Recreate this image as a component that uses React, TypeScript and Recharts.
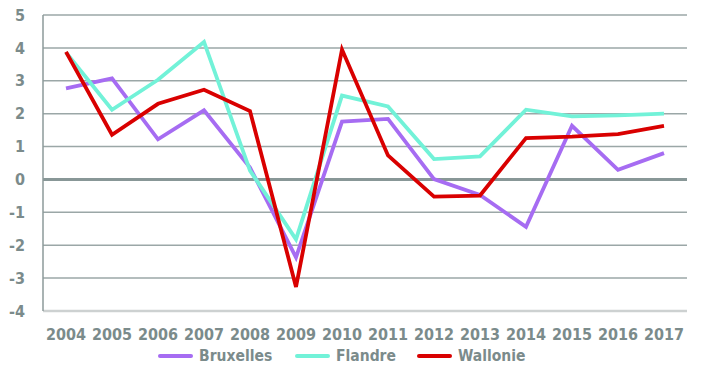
import React from "react";
import { CartesianGrid, Legend, Line, LineChart, ReferenceLine, XAxis, YAxis } from "recharts";

const YEARS = ["2004", "2005", "2006", "2007", "2008", "2009", "2010", "2011", "2012", "2013", "2014", "2015", "2016", "2017"];
const BRUXELLES = [2.77, 3.07, 1.22, 2.1, 0.36, -2.37, 1.76, 1.84, 0.01, -0.47, -1.44, 1.63, 0.29, 0.8];
const FLANDRE = [3.86, 2.12, 3.03, 4.18, 0.27, -1.82, 2.55, 2.22, 0.62, 0.7, 2.12, 1.92, 1.95, 2.0];
const WALLONIE = [3.88, 1.36, 2.3, 2.73, 2.08, -3.27, 3.95, 0.73, -0.52, -0.49, 1.26, 1.3, 1.38, 1.63];
const Y_TICKS = [-4, -3, -2, -1, 0, 1, 2, 3, 4, 5];

const SERIES = [
  { key: "Bruxelles", color: "#a66cf2" },
  { key: "Flandre", color: "#72f2d8" },
  { key: "Wallonie", color: "#d90000" },
];

// legend item slots, px
const LEGEND_WIDTHS = [137, 122, 120];

const FONT = "'DejaVu Sans Condensed', 'DejaVu Sans', sans-serif";
const TEXT = "#7b8b8b";

const data = YEARS.map((year, i) => ({
  year,
  Bruxelles: BRUXELLES[i],
  Flandre: FLANDRE[i],
  Wallonie: WALLONIE[i],
}));

function LegendRow() {
  return (
    <div style={{ height: 22, display: "flex", alignItems: "center", paddingLeft: 158 }}>
      {SERIES.map((s, i) => (
        <div key={s.key} style={{ display: "flex", alignItems: "center", width: LEGEND_WIDTHS[i] }}>
          <span style={{ display: "inline-block", width: 35, height: 4, borderRadius: 2, background: s.color }} />
          <span style={{ marginLeft: 6, fontFamily: FONT, fontWeight: 700, fontSize: 15.5, color: TEXT }}>{s.key}</span>
        </div>
      ))}
    </div>
  );
}

export default function App() {
  return (
    <div style={{ position: "absolute", left: 0, top: 0, width: 701, height: 387, background: "#fff" }}>
      <LineChart width={701} height={387} data={data} margin={{ top: 15, right: 14, left: 0, bottom: 20 }}>
        <CartesianGrid vertical={false} stroke="#9ba7a7" strokeWidth={1.5} />
        <XAxis
          dataKey="year"
          scale="band"
          height={34}
          tickSize={0}
          tickMargin={18}
          axisLine={{ stroke: "#cdd1d1", strokeWidth: 2.5 }}
          tick={{ fill: TEXT, fontSize: 16, fontWeight: 700, fontFamily: FONT }}
        />
        <YAxis
          width={43}
          domain={[-4, 5]}
          ticks={Y_TICKS}
          interval={0}
          tickSize={0}
          tickMargin={18}
          axisLine={{ stroke: "#8c9a9a", strokeWidth: 1.5 }}
          tick={{ fill: TEXT, fontSize: 16, fontWeight: 700, fontFamily: FONT }}
        />
        <ReferenceLine y={0} stroke="#889797" strokeWidth={3} />
        <Legend verticalAlign="bottom" content={() => <LegendRow />} />
        {SERIES.map((s) => (
          <Line
            key={s.key}
            type="linear"
            dataKey={s.key}
            stroke={s.color}
            strokeWidth={3.8}
            dot={false}
            activeDot={false}
            isAnimationActive={false}
          />
        ))}
      </LineChart>
    </div>
  );
}
